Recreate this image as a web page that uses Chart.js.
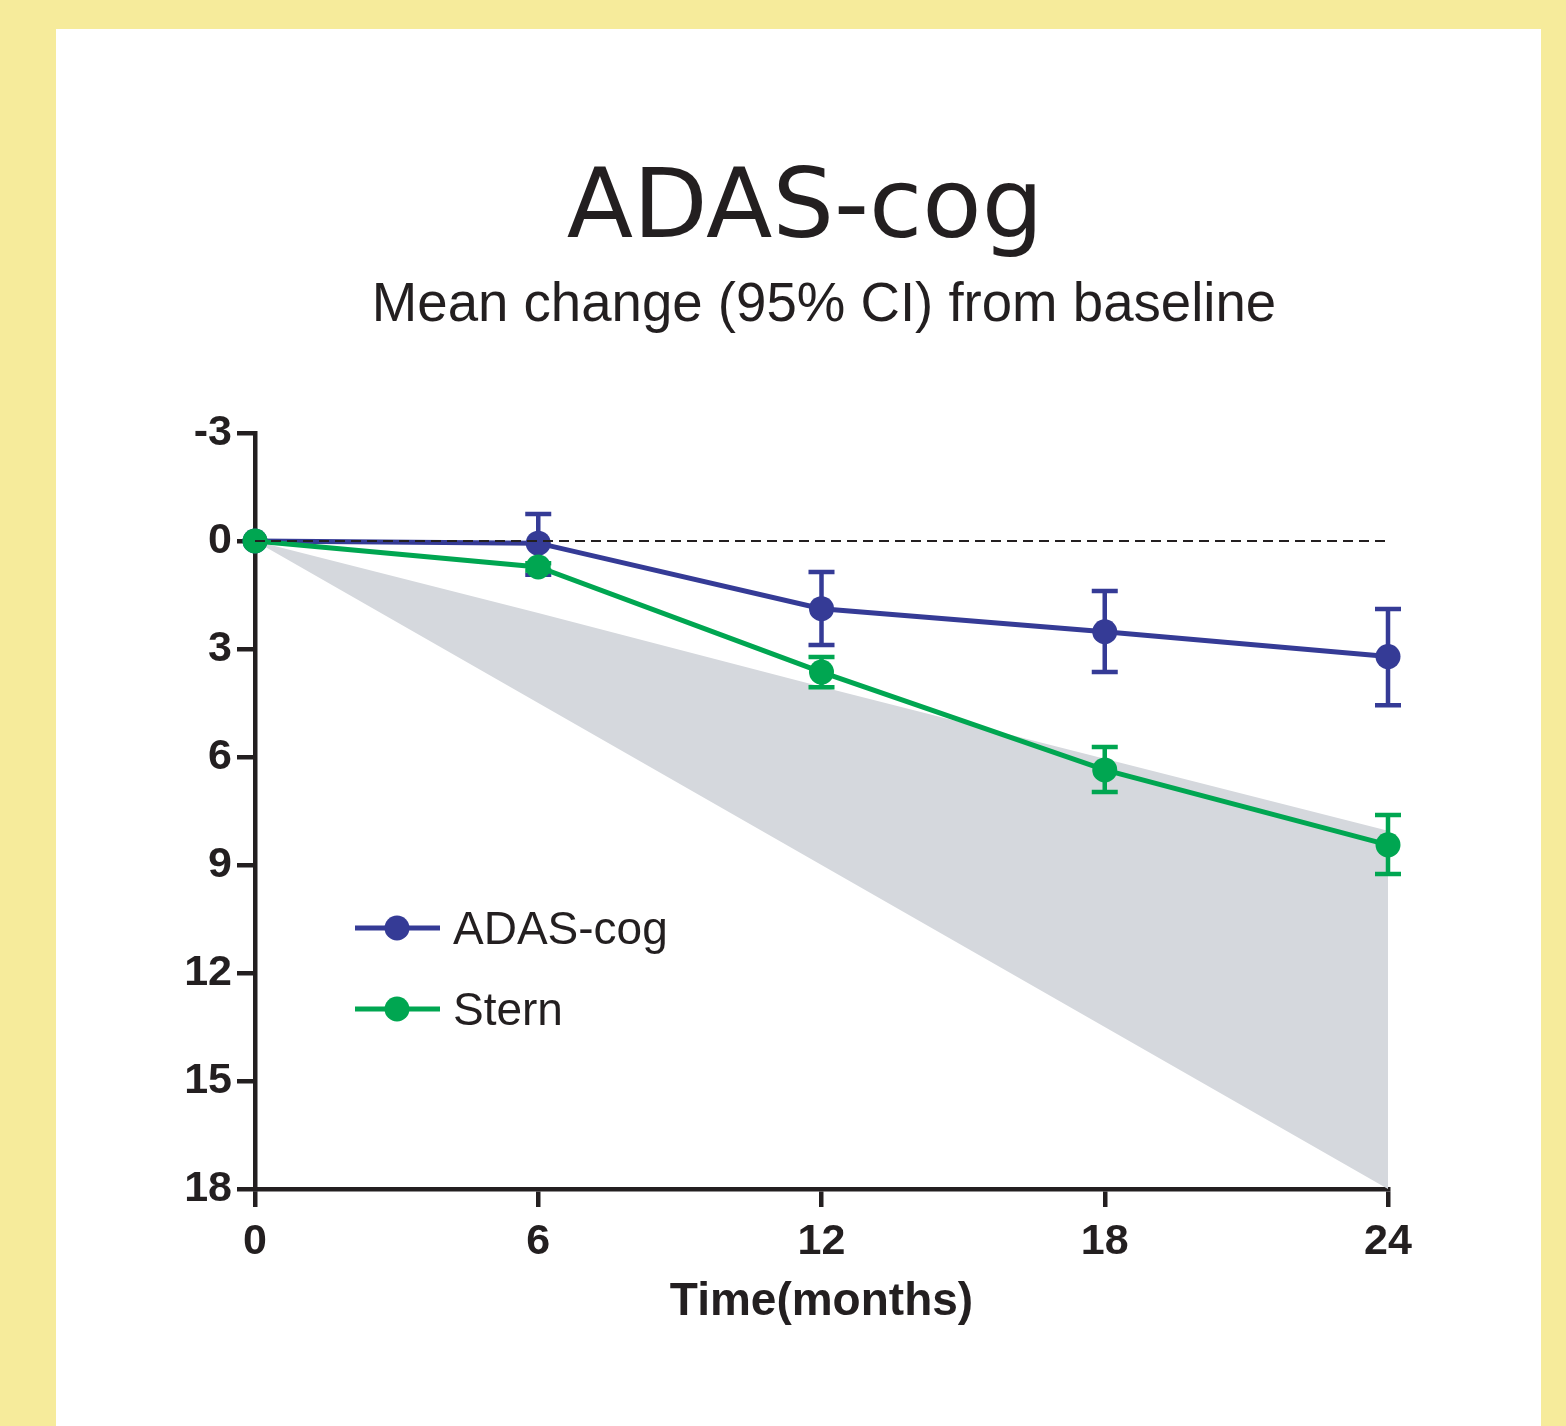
<!DOCTYPE html>
<html>
<head>
<meta charset="utf-8">
<title>ADAS-cog</title>
<script src="https://cdn.jsdelivr.net/npm/chart.js@4.4.0/dist/chart.umd.min.js"></script>
<style>
  html, body { margin: 0; padding: 0; }
  body { width: 1566px; height: 1426px; background: #f6eb9b; position: relative; overflow: hidden; }
  #panel { position: absolute; left: 56px; top: 29px; width: 1485px; height: 1397px; background: #fff; }
  .head { position: absolute; width: 1000px; text-align: center; white-space: nowrap; color: #231f20; }
  #title { font-family: "DejaVu Sans", sans-serif; font-size: 97px; line-height: 97px; left: 249px; top: 126px; }
  #subtitle { font-family: "Liberation Sans", Arial, sans-serif; font-size: 54.6px; line-height: 54px; left: 268px; top: 247px; }
  #chart { position: absolute; left: 0; top: 0; }
</style>
</head>
<body>
<div id="panel">
  <div id="title" class="head">ADAS-cog</div>
  <div id="subtitle" class="head">Mean change (95% CI) from baseline</div>
  <canvas id="chart" width="1485" height="1397"></canvas>
</div>
<script>
// data
const months = [0, 6, 12, 18, 24];
const seriesNames = ["ADAS-cog", "Stern"];
const adasMean = [0, 0.06, 1.88, 2.52, 3.21];
const adasLo = [0, -0.75, 0.86, 1.39, 1.89];
const adasHi = [0, 0.94, 2.89, 3.64, 4.56];
const sternMean = [0, 0.72, 3.64, 6.36, 8.44];
const sternLo = [0, 0.62, 3.22, 5.72, 7.61];
const sternHi = [0, 0.82, 4.06, 6.97, 9.25];
const bandUpper = [0, 2.0, 4.05, 6.05, 8.05];
const bandLower = [0, 4.5, 9, 13.5, 18];
const refLine = [0, 0, 0, 0, 0];
const xTicks = [0, 6, 12, 18, 24];
const yTicks = [-3, 0, 3, 6, 9, 12, 15, 18];

const blue = "#353b96";
const green = "#00a651";
const ink = "#231f20";
const band = "#d5d8dd";
const sans = '"Liberation Sans", Arial, Helvetica, sans-serif';

const pts = arr => months.map((m, i) => ({ x: m, y: arr[i] }));

const errorBars = {
  id: "errorBars",
  beforeDatasetDraw(chart, args) {
    const ds = chart.data.datasets[args.index];
    if (!ds.errLo) return;
    const { ctx, scales: { x, y } } = chart;
    ctx.save();
    ctx.strokeStyle = ds.borderColor;
    ctx.lineWidth = 4.5;
    ds.data.forEach((p, i) => {
      const lo = ds.errLo[i], hi = ds.errHi[i];
      if (lo === hi) return;
      const px = x.getPixelForValue(p.x);
      const y1 = y.getPixelForValue(lo);
      const y2 = y.getPixelForValue(hi);
      ctx.beginPath();
      ctx.moveTo(px, y1); ctx.lineTo(px, y2);
      ctx.moveTo(px - 13, y1); ctx.lineTo(px + 13, y1);
      ctx.moveTo(px - 13, y2); ctx.lineTo(px + 13, y2);
      ctx.stroke();
    });
    ctx.restore();
  }
};

const insideLegend = {
  id: "insideLegend",
  afterDatasetsDraw(chart) {
    const { ctx, chartArea: a } = chart;
    const rows = [[seriesNames[0], blue, 495], [seriesNames[1], green, 576]];
    ctx.save();
    rows.forEach(([label, col, dy]) => {
      const yy = a.top + dy;
      ctx.strokeStyle = col;
      ctx.lineWidth = 5;
      ctx.beginPath();
      ctx.moveTo(a.left + 100, yy);
      ctx.lineTo(a.left + 185, yy);
      ctx.stroke();
      ctx.fillStyle = col;
      ctx.beginPath();
      ctx.arc(a.left + 142, yy, 12.5, 0, Math.PI * 2);
      ctx.fill();
      ctx.fillStyle = ink;
      ctx.font = "46px " + sans;
      ctx.textBaseline = "alphabetic";
      ctx.fillText(label, a.left + 198, yy + 16);
    });
    ctx.restore();
  }
};

const axisStyle = {
  grid: { drawOnChartArea: false, drawTicks: true, tickLength: 18, lineWidth: 4.5, color: ink },
  border: { display: true, width: 4.5, color: ink }
};

new Chart(document.getElementById("chart"), {
  type: "line",
  data: {
    datasets: [
      {
        label: "ref",
        data: pts(refLine),
        borderColor: ink,
        borderWidth: 2,
        borderDash: [10, 6],
        pointRadius: 0,
        fill: false,
        order: 0
      },
      {
        label: seriesNames[1],
        data: pts(sternMean),
        errLo: sternLo,
        errHi: sternHi,
        borderColor: green,
        backgroundColor: green,
        borderWidth: 5,
        pointRadius: 12.5,
        pointBorderWidth: 0,
        pointBackgroundColor: green,
        fill: false,
        clip: false,
        order: 1
      },
      {
        label: seriesNames[0],
        data: pts(adasMean),
        errLo: adasLo,
        errHi: adasHi,
        borderColor: blue,
        backgroundColor: blue,
        borderWidth: 5,
        pointRadius: 12.5,
        pointBorderWidth: 0,
        pointBackgroundColor: blue,
        fill: false,
        clip: false,
        order: 2
      },
      {
        label: "bandUpper",
        data: pts(bandUpper),
        borderWidth: 0,
        pointRadius: 0,
        fill: false,
        order: 3
      },
      {
        label: "bandLower",
        data: pts(bandLower),
        borderWidth: 0,
        pointRadius: 0,
        backgroundColor: band,
        fill: 3,
        order: 4
      }
    ]
  },
  options: {
    responsive: false,
    animation: false,
    events: [],
    layout: { padding: { top: 404, right: 153, bottom: 0, left: 0 } },
    plugins: {
      legend: { display: false },
      tooltip: { enabled: false },
      title: { display: false }
    },
    scales: {
      x: {
        type: "linear",
        min: 0,
        max: 24,
        afterBuildTicks: s => { s.ticks = xTicks.map(v => ({ value: v })); },
        ...axisStyle,
        ticks: {
          color: ink,
          padding: 9,
          font: { family: sans, size: 43, weight: "bold" },
          callback: v => String(v)
        },
        title: {
          display: true,
          text: "Time(months)",
          color: ink,
          font: { family: sans, size: 46, weight: "bold" },
          padding: { top: 0, bottom: 96 }
        },
        afterFit: s => { s.height = 237; }
      },
      y: {
        type: "linear",
        reverse: true,
        min: -3,
        max: 18,
        afterBuildTicks: s => { s.ticks = yTicks.map(v => ({ value: v })); },
        ...axisStyle,
        ticks: {
          color: ink,
          padding: 5,
          font: { family: sans, size: 43, weight: "bold" },
          callback: v => String(v)
        },
        afterFit: s => { s.width = 199; }
      }
    }
  },
  plugins: [errorBars, insideLegend]
});
</script>
</body>
</html>
